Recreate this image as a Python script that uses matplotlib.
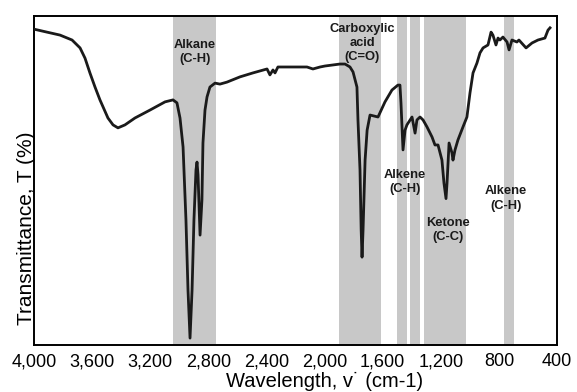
import matplotlib
matplotlib.use("Agg")
import matplotlib.pyplot as plt

plt.rcParams['font.family'] = ['Liberation Sans', 'DejaVu Sans']

# FTIR spectrum (wavenumber cm-1, transmittance %)
wavenumber = [4000, 3911, 3821, 3738, 3683, 3649, 3615, 3580, 3546, 3491,
              3456, 3422, 3374, 3305, 3202, 3098, 3043, 3016, 2995, 2974,
              2954, 2940, 2926, 2912, 2899, 2885, 2878, 2871, 2857, 2844,
              2837, 2823, 2809, 2789, 2754, 2720, 2672, 2582, 2493, 2396,
              2376, 2355, 2341, 2321, 2217, 2121, 2080, 2031, 1997, 1894,
              1859, 1825, 1804, 1777, 1770, 1756, 1748, 1742, 1735, 1721,
              1707, 1687, 1632, 1584, 1536, 1495, 1481, 1474, 1460, 1446,
              1433, 1398, 1377, 1364, 1343, 1322, 1295, 1260, 1240, 1219,
              1192, 1178, 1164, 1157, 1143, 1123, 1116, 1102, 1082, 1047,
              1020, 999, 978, 951, 930, 909, 875, 854, 841, 820,
              806, 793, 772, 744, 730, 710, 676, 662, 613, 572,
              531, 483, 462, 448]
transmittance = [96.0, 95.1, 94.2, 92.7, 90.3, 87.2, 82.7, 78.4, 74.5, 69.0,
                 66.9, 66.0, 66.9, 69.0, 71.4, 73.9, 74.5, 73.6, 69.0, 60.2,
                 38.0, 16.7, 2.1, 16.7, 38.0, 53.2, 55.6, 51.7, 33.4, 44.1,
                 61.4, 71.4, 75.4, 78.4, 79.6, 79.3, 79.9, 81.5, 82.7, 83.9,
                 82.1, 83.6, 82.7, 84.5, 84.5, 84.5, 83.9, 84.5, 84.8, 85.4,
                 85.4, 84.5, 83.0, 78.4, 68.4, 53.2, 35.0, 26.7, 35.0, 56.2,
                 65.3, 69.9, 69.3, 73.9, 77.5, 79.0, 79.0, 73.6, 59.3, 65.3,
                 66.9, 69.3, 64.4, 68.4, 69.3, 68.4, 66.3, 63.2, 60.8, 60.8,
                 56.2, 49.2, 44.5, 49.2, 61.4, 58.4, 56.2, 59.3, 62.3, 66.3,
                 69.3, 76.6, 82.7, 85.7, 88.8, 90.3, 91.2, 95.1, 94.2, 91.2,
                 93.3, 92.7, 93.6, 92.1, 89.7, 92.7, 92.1, 92.7, 90.3, 91.8,
                 92.7, 93.3, 95.7, 96.4]

# shaded functional group regions (cm-1)
bands = [(3040, 2750), (1900, 1610), (1500, 1435), (1410, 1345),
         (1315, 1025), (765, 695)]

# annotations: text, x (cm-1), y (%)
labels = ["Alkane\n(C-H)", "Carboxylic\nacid\n(C=O)", "Alkene\n(C-H)",
          "Ketone\n(C-C)", "Alkene\n(C-H)"]
label_x = [2892, 1742, 1446, 1150, 751]
label_y = [89.0, 91.8, 49.5, 35.0, 44.5]

xticks = [4000, 3600, 3200, 2800, 2400, 2000, 1600, 1200, 800, 400]

fig = plt.figure(figsize=(5.77, 3.92), dpi=100)
ax = fig.add_axes([34/577, 1 - 345/392, (557-34)/577, (345-16)/392])

for lo, hi in bands:
    ax.axvspan(hi, lo, color='#c8c8c8', lw=0, zorder=1)

ax.plot(wavenumber, transmittance, color='#1a1a1a', lw=2.0, zorder=3,
        solid_joinstyle='round')

for t, x, y in zip(labels, label_x, label_y):
    ax.text(x, y, t, ha='center', va='center', fontsize=9.3,
            fontweight='bold', linespacing=1.25, color='#1a1a1a', zorder=4)

ax.set_xlim(4000, 400)
ax.set_ylim(0, 100)
ax.set_xticks(xticks)
ax.set_xticklabels([f"{v:,}" for v in xticks], fontsize=13)
ax.set_yticks([])
ax.tick_params(axis='x', length=0, pad=6)
for s in ax.spines.values():
    s.set_linewidth(1.4)
    s.set_color('black')

fig.text(325/577, 1 - 381/392, "Wavelength, v\u02d9 (cm-1)", fontsize=14.5,
         ha='center', va='center')
fig.text(27/577, 1 - 228/392, "Transmittance, T (%)", fontsize=15,
         rotation=90, ha='center', va='center')

fig.savefig("out.png", dpi=100)
